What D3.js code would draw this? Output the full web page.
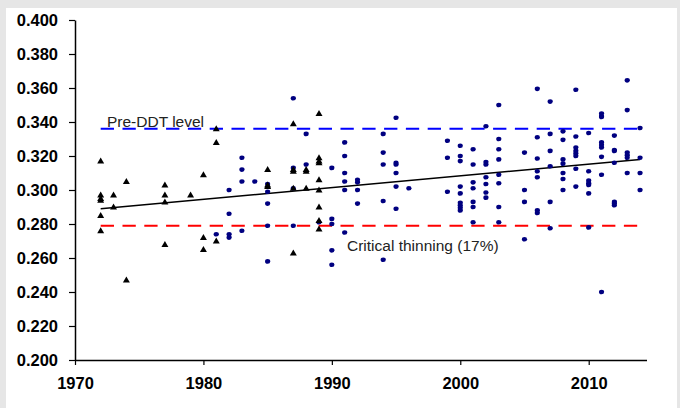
<!DOCTYPE html>
<html>
<head>
<meta charset="utf-8">
<script src="https://cdn.jsdelivr.net/npm/d3@7"></script>
<style>
  body { margin: 0; background: #e6e6e6; }
  svg { display: block; }
</style>
</head>
<body>
<svg width="680" height="408"></svg>
<script>
// triangles (older samples)
var triYears = [1972,1972,1972,1972,1972,1972, 1973,1973, 1974,1974, 1977,1977,1977,1977, 1979,
  1980,1980,1980, 1981,1981,1981, 1985,1985,1985, 1987,1987,1987,1987,1987, 1988,1988,1988,
  1989,1989,1989,1989,1989,1989,1989,1989,1989];
var triValues = [0.317,0.297,0.295,0.294,0.285,0.276, 0.297,0.290, 0.305,0.247, 0.303,0.297,0.293,0.268, 0.297,
  0.309,0.272,0.265, 0.336,0.328,0.270, 0.312,0.303,0.302, 0.339,0.312,0.311,0.301,0.263, 0.312,0.311,0.301,
  0.345,0.319,0.317,0.316,0.306,0.300,0.290,0.282,0.277];

// dots (newer samples)
var dotYears = [1981, 1982,1982,1982,1982, 1983,1983,1983,1983, 1984, 1985,1985,1985,1985,1985,
  1987,1987,1987,1987, 1988,1988, 1989, 1990,1990,1990,1990,1990, 1991,1991,1991,1991,1991,1991,
  1992,1992,1992,1992, 1994,1994,1994,1994,1994, 1995,1995,1995,1995,1995,1995, 1996,
  1999,1999,1999, 2000,2000,2000,2000,2000,2000,2000,2000,2000, 2001,2001,2001,2001,2001,2001,2001,
  2002,2002,2002,2002,2002,2002,2002, 2003,2003,2003,2003,2003,2003,2003,2003, 2005,2005,2005,2005,
  2006,2006,2006,2006,2006,2006,2006, 2007,2007,2007,2007,2007,2007, 2008,2008,2008,2008,2008,2008,2008,
  2009,2009,2009,2009,2009,2009,2009,2009, 2010,2010,2010,2010,2010,2010,2010,
  2011,2011,2011,2011,2011,2011,2011,2011,2011, 2012,2012,2012,2012,2012,2012,2012,
  2013,2013,2013,2013,2013,2013, 2014,2014,2014,2014];
var dotValues = [0.274, 0.300,0.286,0.274,0.272, 0.319,0.312,0.305,0.276, 0.305, 0.3035,0.299,0.292,0.279,0.258,
  0.354,0.313,0.301,0.279, 0.333,0.315, 0.281, 0.313,0.283,0.280,0.2645,0.256, 0.328,0.320,0.310,0.305,0.300,0.275,
  0.306,0.3045,0.300,0.292, 0.333,0.322,0.315,0.2935,0.259, 0.3425,0.316,0.315,0.310,0.302,0.289, 0.301,
  0.329,0.319,0.299, 0.326,0.320,0.317,0.302,0.298,0.2925,0.291,0.2895,0.288, 0.324,0.315,0.3045,0.301,0.293,0.290,0.281,
  0.3375,0.3165,0.315,0.3075,0.3035,0.2985,0.2955, 0.350,0.330,0.324,0.318,0.309,0.304,0.290,0.281, 0.322,0.300,0.293,0.271,
  0.3595,0.331,0.3185,0.311,0.3075,0.288,0.2865, 0.352,0.333,0.323,0.314,0.293,0.2775, 0.3345,0.3295,0.318,0.3155,0.310,0.3065,0.300,
  0.359,0.3315,0.325,0.323,0.3215,0.320,0.3125,0.302, 0.3335,0.311,0.3055,0.304,0.303,0.298,0.278,
  0.345,0.3435,0.343,0.328,0.3265,0.325,0.3195,0.309,0.240, 0.332,0.3235,0.323,0.316,0.293,0.292,0.291,
  0.3645,0.347,0.322,0.3205,0.319,0.310, 0.3365,0.319,0.310,0.300];

var trendYears = [1972, 2014];
var trendValues = [0.289, 0.318];
var refYears = [1972, 2014];
var preDDT = 0.336;
var critical = 0.279;
var xTicks = [1970, 1980, 1990, 2000, 2010];
var yTicks = [0.200, 0.220, 0.240, 0.260, 0.280, 0.300, 0.320, 0.340, 0.360, 0.380, 0.400];

var svg = d3.select("svg");

svg.append("rect").attr("x", 6).attr("y", 8).attr("width", 671).attr("height", 400).attr("fill", "#fff");

var x = d3.scaleLinear().domain([1970, 2014.5]).range([75, 646.5]);
var y = d3.scaleLinear().domain([0.2, 0.4]).range([360, 20]);

var fontAxis = "'Liberation Sans', Arial, sans-serif";

var gy = svg.append("g").attr("transform", "translate(75,0)")
  .call(d3.axisLeft(y).tickValues(yTicks).tickFormat(d3.format(".3f")).tickSize(6).tickSizeOuter(0).tickPadding(11));
var gx = svg.append("g").attr("transform", "translate(0,360)")
  .call(d3.axisBottom(x).tickValues(xTicks).tickFormat(d3.format("d")).tickSize(5).tickSizeOuter(0).tickPadding(12));

[gy, gx].forEach(function(g) {
  g.select(".domain").attr("stroke", "#000").attr("stroke-width", 1.5);
  g.selectAll(".tick line").attr("stroke", "#000").attr("stroke-width", 1.2);
  g.selectAll(".tick text").attr("fill", "#000")
    .style("font-family", fontAxis).style("font-size", "16.5px").style("font-weight", "bold");
});

// reference lines
var refs = [{v: preDDT, c: "#0000ff"}, {v: critical, c: "#ff0000"}];
refs.forEach(function(r) {
  svg.append("line")
    .attr("x1", x(refYears[0])).attr("x2", x(refYears[1]))
    .attr("y1", y(r.v)).attr("y2", y(r.v))
    .attr("stroke", r.c).attr("stroke-width", 2)
    .attr("stroke-dasharray", "13.3,8.5");
});

// trend line
svg.append("line")
  .attr("x1", x(trendYears[0])).attr("y1", y(trendValues[0]))
  .attr("x2", x(trendYears[1])).attr("y2", y(trendValues[1]))
  .attr("stroke", "#000").attr("stroke-width", 1.5);

// dots
svg.selectAll(".dot")
  .data(dotYears)
  .enter()
  .append("ellipse")
  .attr("class", "dot")
  .attr("cx", function(d){ return x(d); })
  .attr("cy", function(d, i){ return y(dotValues[i]); })
  .attr("rx", 2.6)
  .attr("ry", 2.3)
  .attr("fill", "#000080");

// triangles
var tri = d3.symbol().type(d3.symbolTriangle).size(21);
svg.selectAll(".tri")
  .data(triYears)
  .enter()
  .append("path")
  .attr("class", "tri")
  .attr("d", tri)
  .attr("transform", function(d, i){ return "translate(" + x(d) + "," + (y(triValues[i]) + 0.5) + ")"; })
  .attr("fill", "#000");

// labels
svg.append("text").attr("x", 107).attr("y", 127)
  .style("font-family", fontAxis).style("font-size", "15.5px").attr("fill", "#222")
  .text("Pre-DDT level");
svg.append("text").attr("x", 347).attr("y", 251)
  .style("font-family", fontAxis).style("font-size", "15.5px").attr("fill", "#222")
  .text("Critical thinning (17%)");
</script>
</body>
</html>
